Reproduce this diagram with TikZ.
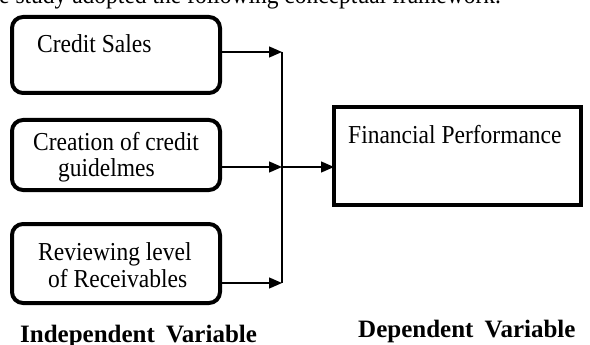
\documentclass[tikz,border=0pt]{standalone}
\usepackage{graphicx}
\usepackage{fontspec}
\setmainfont{Liberation Serif}
\usetikzlibrary{arrows.meta}
\newcommand{\tallt}[1]{\scalebox{1}[1.1]{#1}}
\begin{document}
\begin{tikzpicture}[x=1pt,y=-1pt,
  ivbox/.style={draw,line width=4pt,rounded corners=11pt,minimum width=208pt,inner sep=0pt,outer sep=0pt},
  dvbox/.style={draw,line width=4pt,minimum width=247pt,minimum height=98pt,inner sep=0pt,outer sep=0pt},
  lbl/.style={anchor=base west,inner sep=0pt,font=\fontsize{23.5}{26}\selectfont},
  blbl/.style={anchor=base west,inner sep=0pt,font=\fontsize{25}{28}\selectfont\bfseries},
  conn/.style={line width=1.3pt},
  arr/.style={conn,-{Triangle[length=13pt,width=11pt]}}]
\useasboundingbox (0,0) rectangle (590,345);
\clip (0,0) rectangle (590,345);
\node[lbl] (intro) at (-1,4) {\tallt{e study adopted the following conceptual framework.}};
% boxes
\node[ivbox,minimum height=76pt] (b1) at (116,55) {};
\node[ivbox,minimum height=70pt] (b2) at (116,155) {};
\node[ivbox,minimum height=79pt] (b3) at (116,263.5) {};
\node[dvbox] (fin) at (457.5,156) {};
% texts
\node[lbl] (t1) at (37,53) {\tallt{Credit Sales}};
\node[lbl] (t2a) at (33,150) {\tallt{Creation of credit}};
\node[lbl] (t2b) at (58,176) {\tallt{guidelmes}};
\node[lbl] (t3a) at (38,260) {\tallt{Reviewing level}};
\node[lbl] (t3b) at (48,287) {\tallt{of Receivables}};
\node[lbl] (t4) at (348,143) {\tallt{Financial Performance}};
\node[blbl] (iv) at (20,342) {Independent\hspace{0.45em}Variable};
\node[blbl] (dv) at (358,337) {Dependent\hspace{0.45em}Variable};
% connectors
\coordinate (j1) at (282,52);
\coordinate (j2) at (282,167);
\coordinate (j3) at (282,283);
\draw[conn] (j1) -- (j3);
\draw[arr] (b1.east |- j1) -- (j1);
\draw[arr] (b2.east |- j2) -- (j2);
\draw[arr] (b3.east |- j3) -- (j3);
\draw[arr] (j2) -- (fin.west |- j2);
\end{tikzpicture}
\end{document}
